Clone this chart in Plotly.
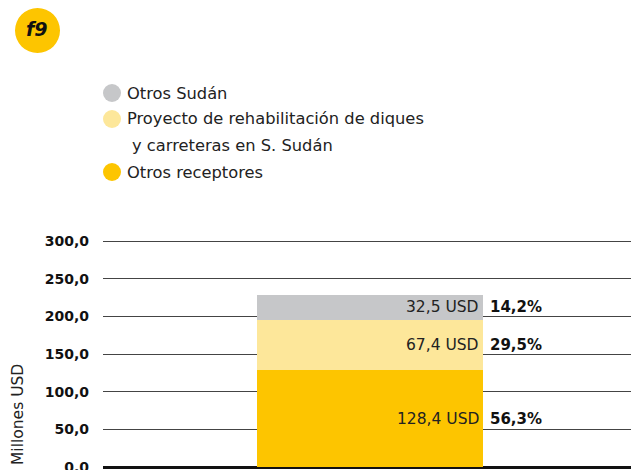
import plotly.graph_objects as go

# ---- data ----
categories = [""]
series_names = ["Otros receptores", "Proyecto de rehabilitación de diques", "Otros Sudán"]
series_name_extra = ["", "y carreteras en S. Sudán", ""]
series_values = [128.4, 67.4, 32.5]
series_colors = ["#FDC500", "#FDE79A", "#C6C7C9"]
value_labels = ["128,4 USD", "67,4 USD", "32,5 USD"]
pct_labels = ["56,3%", "29,5%", "14,2%"]
tick_vals = [0, 50, 100, 150, 200, 250, 300]

W_PX, H_PX = 631, 470
L, R, T, B = 103, 0, 239, 3
PW, PH = W_PX - L - R, H_PX - T - B


def px_x(px):
    return (px - L) / PW


def px_y(py):
    return (H_PX - B - py) / PH


FONT = "DejaVu Sans"
fig = go.Figure()

for name, val, col in zip(series_names, series_values, series_colors):
    fig.add_trace(go.Bar(x=categories, y=[val], name=name, marker=dict(color=col, line=dict(width=0)),
                         width=1, showlegend=False, hoverinfo="skip"))

annotations = []
base = 0
for val, vl, pl in zip(series_values, value_labels, pct_labels):
    mid = base + val / 2
    annotations.append(dict(x=0.5, y=mid, xref="x", yref="y", text=vl, showarrow=False,
                            xanchor="right", yanchor="middle", xshift=-2,
                            font=dict(family=FONT, size=15.5, color="#222222")))
    annotations.append(dict(x=0.5, y=mid, xref="x", yref="y", text="<b>" + pl + "</b>", showarrow=False,
                            xanchor="left", yanchor="middle", xshift=5,
                            font=dict(family=FONT, size=15, color="#111111")))
    base += val

# manual legend (top-to-bottom order: reversed stack)
legend_rows = [(2, 93), (1, 119), (0, 172)]
shapes = []
for idx, py in legend_rows:
    shapes.append(dict(type="circle", xref="paper", yref="paper",
                       x0=px_x(103), x1=px_x(121), y0=px_y(py + 9), y1=px_y(py - 9),
                       fillcolor=series_colors[idx], line=dict(width=0)))
    annotations.append(dict(x=px_x(125), y=px_y(py), xref="paper", yref="paper", text=series_names[idx],
                            showarrow=False, xanchor="left", yanchor="middle",
                            font=dict(family=FONT, size=16.3, color="#222222")))
    if series_name_extra[idx]:
        annotations.append(dict(x=px_x(130), y=px_y(py + 26), xref="paper", yref="paper",
                                text=series_name_extra[idx], showarrow=False, xanchor="left",
                                yanchor="middle", font=dict(family=FONT, size=16.3, color="#222222")))

# badge
shapes.append(dict(type="circle", xref="paper", yref="paper",
                   x0=px_x(15), x1=px_x(60), y0=px_y(53), y1=px_y(8),
                   fillcolor="#FDC500", line=dict(width=0)))
annotations.append(dict(x=px_x(37), y=px_y(29), xref="paper", yref="paper", text="<b><i>f9</i></b>",
                        showarrow=False, xanchor="center", yanchor="middle",
                        font=dict(family=FONT, size=19, color="#111111")))

# y-axis title
annotations.append(dict(x=px_x(18), y=px_y(415), xref="paper", yref="paper", text="Millones USD",
                        showarrow=False, textangle=-90, xanchor="center", yanchor="middle",
                        font=dict(family=FONT, size=15.5, color="#222222")))

yr = 300 * PH / (H_PX - B - 241)
fig.update_layout(
    width=W_PX, height=H_PX,
    margin=dict(l=L, r=R, t=T, b=B, pad=0),
    paper_bgcolor="white", plot_bgcolor="white",
    barmode="stack", bargap=0,
    separators=", ",
    showlegend=False,
    shapes=shapes, annotations=annotations,
    xaxis=dict(range=[-(370 - L) / 226, (W_PX - R - 370) / 226], showticklabels=False,
               showgrid=False, zeroline=False, fixedrange=True, automargin=False),
    yaxis=dict(range=[0, yr], tickvals=tick_vals, tickformat=".1f", automargin=False,
               showgrid=True, gridcolor="#444444", gridwidth=1.2,
               zeroline=True, zerolinecolor="#111111", zerolinewidth=2.5,
               ticks="", ticklabelstandoff=13, ticklabeloverflow="allow",
               tickfont=dict(family=FONT, size=14, color="#111111", weight="bold")),
)

fig.write_html("out.html", config={"displayModeBar": False},
               post_script="document.body.style.margin='0';document.body.style.overflow='hidden';")
